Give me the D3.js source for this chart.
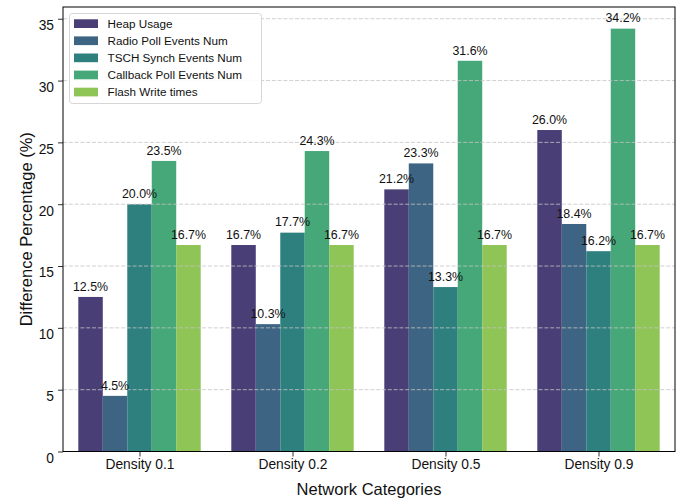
<!DOCTYPE html>
<html>
<head>
<meta charset="utf-8">
<script src="https://cdn.jsdelivr.net/npm/d3@7"></script>
<style>
  html, body { margin: 0; padding: 0; background: #fff; }
  svg { display: block; font-family: "Liberation Sans", Arial, sans-serif; }
</style>
</head>
<body>
<svg id="chart" width="681" height="502"></svg>
<script>
// Network categories along the x axis
const categories = ["Density 0.1", "Density 0.2", "Density 0.5", "Density 0.9"];

// Metric names (legend order) and their percentage differences per category
const seriesNames = [
  "Heap Usage",
  "Radio Poll Events Num",
  "TSCH Synch Events Num",
  "Callback Poll Events Num",
  "Flash Write times"
];
const heapUsage     = [12.5, 16.7, 21.2, 26.0];
const radioPoll     = [4.5, 10.3, 23.3, 18.4];
const tschSynch     = [20.0, 17.7, 13.3, 16.2];
const callbackPoll  = [23.5, 24.3, 31.6, 34.2];
const flashWrite    = [16.7, 16.7, 16.7, 16.7];
const seriesValues  = [heapUsage, radioPoll, tschSynch, callbackPoll, flashWrite];

const seriesColors = ["#4a3e77", "#3e6483", "#2e807f", "#46a878", "#8fc456"];

const yTicks = [0, 5, 10, 15, 20, 25, 30, 35];

const svg = d3.select("#chart");
const plot = { left: 63, right: 675, top: 7, bottom: 451.5 };

const barWidth = 0.16; // in category units; five bars fill 0.8 of each slot

const x = d3.scaleLinear().domain([-0.5, categories.length - 0.5]).range([plot.left, plot.right]);
const y = d3.scaleLinear().domain([0, 35.95]).range([plot.bottom, plot.top]);

// Bars
seriesValues.forEach((vals, s) => {
  const offset = (s - (seriesValues.length - 1) / 2) * barWidth;
  svg.append("g")
    .selectAll("rect")
    .data(vals)
    .join("rect")
    .attr("x", (d, i) => x(i + offset - barWidth / 2))
    .attr("width", (d, i) => x(i + offset + barWidth / 2) - x(i + offset - barWidth / 2))
    .attr("y", d => y(d))
    .attr("height", d => y(0) - y(d))
    .attr("fill", seriesColors[s]);
});

// Dashed horizontal grid, drawn over the bars
svg.append("g")
  .selectAll("line")
  .data(yTicks)
  .join("line")
  .attr("x1", plot.left).attr("x2", plot.right)
  .attr("y1", d => y(d)).attr("y2", d => y(d))
  .attr("stroke", "#c4c4c4")
  .attr("stroke-width", 0.8)
  .attr("stroke-dasharray", "4,1.8");

// Value labels above each bar
seriesValues.forEach((vals, s) => {
  const offset = (s - (seriesValues.length - 1) / 2) * barWidth;
  svg.append("g")
    .selectAll("text")
    .data(vals)
    .join("text")
    .attr("x", (d, i) => x(i + offset))
    .attr("y", d => y(d + 0.5))
    .attr("text-anchor", "middle")
    .attr("font-size", "12.4px")
    .attr("fill", "#111")
    .text(d => d.toFixed(1) + "%");
});

// Axes
const xAxis = d3.axisBottom(x)
  .tickValues(d3.range(categories.length))
  .tickFormat(i => categories[i])
  .tickSize(5).tickPadding(3);
const gx = svg.append("g").attr("transform", `translate(0,${plot.bottom})`).call(xAxis);
gx.select(".domain").remove();
gx.selectAll("line").attr("stroke", "#333");
gx.selectAll("text").attr("font-size", "13.8px").attr("fill", "#111")
  .attr("font-family", "Liberation Sans, Arial, sans-serif");

const yAxis = d3.axisLeft(y).tickValues(yTicks).tickSize(5).tickPadding(4);
const gy = svg.append("g").attr("transform", `translate(${plot.left},0)`).call(yAxis);
gy.select(".domain").remove();
gy.selectAll("line").attr("stroke", "#333");
// tick numbers sit a little below their tick marks
gy.selectAll("text").attr("font-size", "13.8px").attr("fill", "#111")
  .attr("dy", "0.32em").attr("y", 6.5)
  .attr("font-family", "Liberation Sans, Arial, sans-serif");

// Frame
svg.append("rect")
  .attr("x", plot.left).attr("y", plot.top)
  .attr("width", plot.right - plot.left).attr("height", plot.bottom - plot.top)
  .attr("fill", "none").attr("stroke", "#000").attr("stroke-width", 1);

// Axis titles
svg.append("text")
  .attr("x", (plot.left + plot.right) / 2).attr("y", 495)
  .attr("text-anchor", "middle").attr("font-size", "16.5px").attr("fill", "#111")
  .text("Network Categories");
svg.append("text")
  .attr("transform", `translate(32,${(plot.top + plot.bottom) / 2}) rotate(-90)`)
  .attr("text-anchor", "middle").attr("font-size", "16.5px").attr("fill", "#111")
  .text("Difference Percentage (%)");

// Legend
const legend = svg.append("g").attr("transform", "translate(69,13)");
legend.append("rect")
  .attr("x", 0.5).attr("y", 0.5).attr("width", 192).attr("height", 90)
  .attr("rx", 3).attr("fill", "#fff").attr("fill-opacity", 0.9)
  .attr("stroke", "#d6d6d6").attr("stroke-width", 1);
const items = legend.selectAll("g.item")
  .data(seriesNames)
  .join("g").attr("class", "item")
  .attr("transform", (d, i) => `translate(0,${10.7 + i * 17.1})`);
items.append("rect")
  .attr("x", 5).attr("y", -4.4).attr("width", 24).attr("height", 8.7)
  .attr("fill", (d, i) => seriesColors[i]);
items.append("text")
  .attr("x", 38.5).attr("y", 4.1)
  .attr("font-size", "11.7px").attr("fill", "#111")
  .text(d => d);
</script>
</body>
</html>
